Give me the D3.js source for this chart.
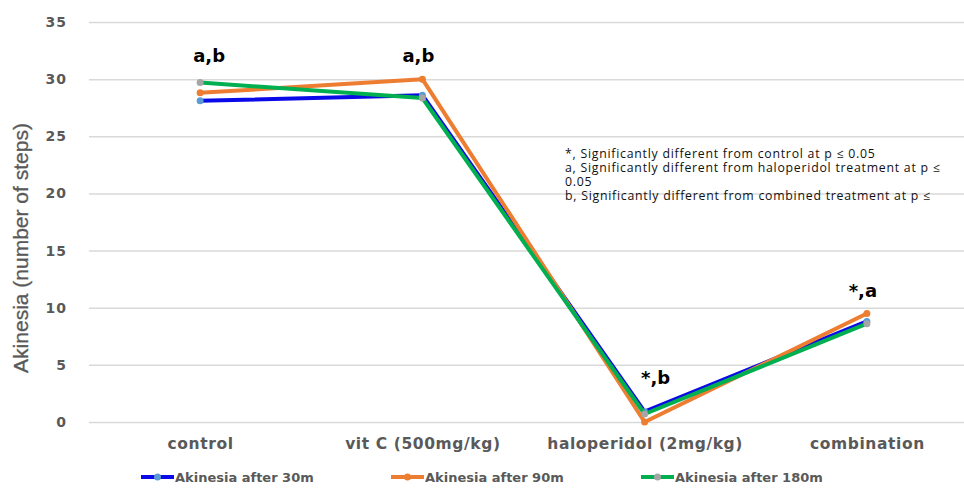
<!DOCTYPE html>
<html>
<head>
<meta charset="utf-8">
<script src="https://cdn.jsdelivr.net/npm/d3@7"></script>
<style>
  body { margin: 0; background: #fff; }
  svg { display: block; }
</style>
</head>
<body>
<svg id="chart" width="964" height="489"></svg>
<script>
// data
var categories = ["control", "vit C (500mg/kg)", "haloperidol (2mg/kg)", "combination"];
var after30 = [28.1, 28.6, 0.9, 8.8];
var after90 = [28.8, 30.0, 0.0, 9.5];
var after180 = [29.7, 28.35, 0.7, 8.6];
var seriesNames = ["Akinesia after 30m", "Akinesia after 90m", "Akinesia after 180m"];
var yTicks = [0, 5, 10, 15, 20, 25, 30, 35];
var marks = ["a,b", "a,b", "*,b", "*,a"];
var notes = ["*, Significantly different from control at p \u2264 0.05",
             "a, Significantly different from haloperidol treatment at p \u2264",
             "0.05",
             "b, Significantly different from combined treatment at p \u2264"];

var lineCol = ["#0a0ae8", "#ed7d31", "#00b050"];
var dotCol = ["#5b9bd5", "#ed7d31", "#a5a5a5"];
var allSeries = [after30, after90, after180];

var svg = d3.select("#chart");
var plotL = 89, plotR = 978, plotT = 22, plotB = 422;

var x = d3.scalePoint().domain(categories).range([plotL, plotR]).padding(0.5);
var y = d3.scaleLinear().domain([0, 35]).range([plotB, plotT]);

// gridlines
var yaxis = d3.axisLeft(y).tickValues(yTicks).tickSize(-(plotR - plotL)).tickPadding(22);
var gy = svg.append("g").attr("transform", "translate(" + plotL + ",0)").call(yaxis);
gy.select(".domain").remove();
gy.selectAll(".tick line").attr("stroke", "#d9d9d9").attr("stroke-width", 1.5);
gy.selectAll(".tick text")
  .attr("fill", "#595959")
  .style("font-family", "DejaVu Sans, Verdana, sans-serif")
  .style("font-weight", "bold")
  .style("font-size", "14px")
  .style("letter-spacing", "1px");

// category labels
var xaxis = d3.axisBottom(x).tickSize(0).tickPadding(16);
var gx = svg.append("g").attr("transform", "translate(0," + plotB + ")").call(xaxis);
gx.select(".domain").remove();
gx.selectAll(".tick text")
  .attr("fill", "#595959")
  .style("font-family", "DejaVu Sans, Verdana, sans-serif")
  .style("font-weight", "bold")
  .style("font-size", "15.5px")
  .style("letter-spacing", "0.6px");

// y title
svg.append("text")
  .attr("transform", "translate(28,248) rotate(-90)")
  .attr("text-anchor", "middle")
  .attr("fill", "#595959")
  .style("font-family", "Liberation Sans Narrow, Arial Narrow, sans-serif")
  .style("font-size", "21px")
  .style("stroke", "#595959")
  .style("stroke-width", "0.3px")
  .text("Akinesia (number of steps)");

// lines
var line = d3.line()
  .x(function (d, i) { return x(categories[i]); })
  .y(function (d) { return y(d); });

allSeries.forEach(function (s, k) {
  svg.append("path")
    .datum(s)
    .attr("d", line)
    .attr("fill", "none")
    .attr("stroke", lineCol[k])
    .attr("stroke-width", 4)
    .attr("stroke-linejoin", "round");
  svg.selectAll(".dot" + k)
    .data(s)
    .enter().append("circle")
    .attr("class", "dot" + k)
    .attr("cx", function (d, i) { return x(categories[i]); })
    .attr("cy", function (d) { return y(d); })
    .attr("r", 3.5)
    .attr("fill", dotCol[k]);
});

// significance marks
var markDx = [9, -4, 11, -4];
var markY = [62, 62, 384, 297];
svg.selectAll(".mark")
  .data(marks)
  .enter().append("text")
  .attr("x", function (d, i) { return x(categories[i]) + markDx[i]; })
  .attr("y", function (d, i) { return markY[i]; })
  .attr("text-anchor", "middle")
  .attr("fill", "#000")
  .style("font-family", "DejaVu Sans, Verdana, sans-serif")
  .style("font-weight", "bold")
  .style("font-size", "18px")
  .text(function (d) { return d; });

// notes
svg.selectAll(".note")
  .data(notes)
  .enter().append("text")
  .attr("x", 565)
  .attr("y", function (d, i) { return 158 + i * 14; })
  .attr("fill", "#111")
  .style("font-family", "Open Sans, sans-serif")
  .style("font-size", "12.3px")
  .style("letter-spacing", "0.75px")
  .text(function (d) { return d; });

// legend
var lg = svg.selectAll(".leg")
  .data(seriesNames)
  .enter().append("g")
  .attr("transform", function (d, i) { return "translate(" + (141 + i * 250) + ",477)"; });
lg.append("line")
  .attr("x1", 0).attr("x2", 33)
  .attr("stroke", function (d, i) { return lineCol[i]; })
  .attr("stroke-width", 4);
lg.append("circle")
  .attr("cx", 16.5).attr("r", 3.5)
  .attr("fill", function (d, i) { return dotCol[i]; });
lg.append("text")
  .attr("x", 34)
  .attr("dy", "0.36em")
  .attr("fill", "#595959")
  .style("font-family", "DejaVu Sans, Verdana, sans-serif")
  .style("font-weight", "bold")
  .style("font-size", "13px")
  .text(function (d) { return d; });
</script>
</body>
</html>
